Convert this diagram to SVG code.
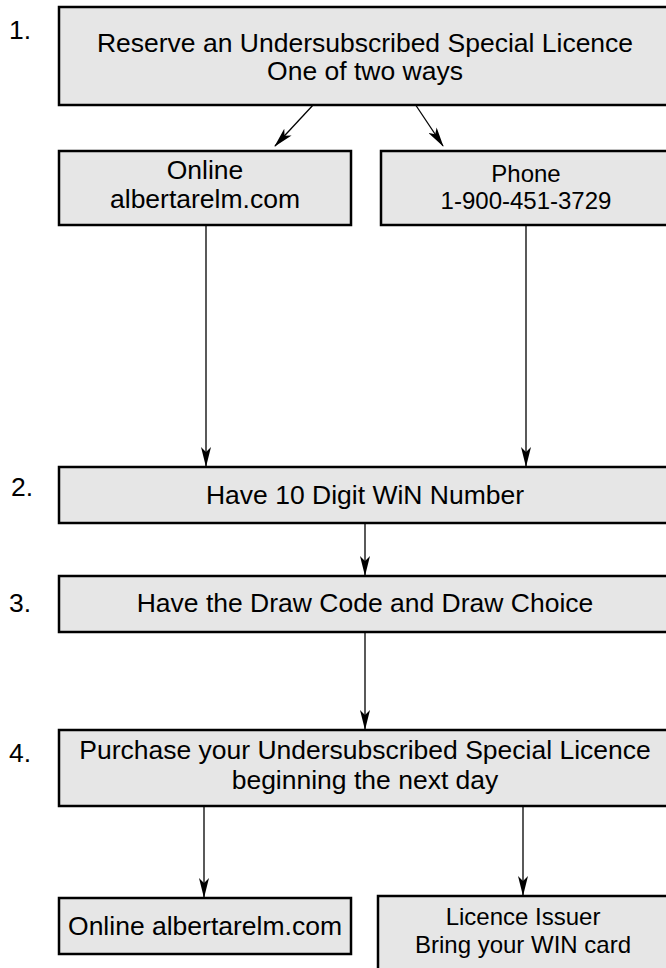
<svg xmlns="http://www.w3.org/2000/svg" width="666" height="968" viewBox="0 0 666 968">
<style>
.box{fill:#e6e6e6;stroke:#000;stroke-width:2.5}
.t{font-family:"Liberation Sans",Arial,sans-serif;font-size:26.5px;fill:#000;text-anchor:middle}
.s{font-size:24px}
.n{font-family:"Liberation Sans",Arial,sans-serif;font-size:26.5px;fill:#000}
.c{stroke:#000;stroke-width:1.3;fill:none;marker-end:url(#ah)}
</style>
<defs>
<marker id="ah" markerUnits="userSpaceOnUse" markerWidth="20" markerHeight="10" viewBox="0 0 20 10" refX="19" refY="5" orient="auto">
<path d="M0,0 L20,5 L0,10 L5,5 z" fill="#000"/>
</marker>
</defs>
<rect width="666" height="968" fill="#fff"/>
<g id="connectors">
<line class="c" x1="314" y1="104" x2="275" y2="146"/>
<line class="c" x1="415" y1="104" x2="443" y2="146"/>
<line class="c" x1="206" y1="225" x2="206" y2="466"/>
<line class="c" x1="526" y1="225" x2="526" y2="466"/>
<line class="c" x1="365" y1="523" x2="365" y2="575"/>
<line class="c" x1="365" y1="632" x2="365" y2="729"/>
<line class="c" x1="204" y1="806" x2="204" y2="897"/>
<line class="c" x1="523" y1="806" x2="523" y2="895"/>
</g>
<g id="n1">
<text class="n" x="9" y="39">1.</text>
<rect class="box" x="59" y="7" width="620" height="98"/>
<text class="t" x="365" y="52">Reserve an Undersubscribed Special Licence</text>
<text class="t" x="365" y="80">One of two ways</text>
</g>
<g id="online1">
<rect class="box" x="59" y="151" width="292" height="74"/>
<text class="t" x="205" y="179">Online</text>
<text class="t" x="205" y="208">albertarelm.com</text>
</g>
<g id="phone">
<rect class="box" x="381" y="151" width="300" height="74"/>
<text class="t s" x="526" y="182">Phone</text>
<text class="t s" x="526" y="209">1-900-451-3729</text>
</g>
<g id="n2">
<text class="n" x="11" y="496">2.</text>
<rect class="box" x="59" y="467" width="620" height="56"/>
<text class="t" x="365" y="504">Have 10 Digit WiN Number</text>
</g>
<g id="n3">
<text class="n" x="9" y="612">3.</text>
<rect class="box" x="59" y="576" width="620" height="56"/>
<text class="t" x="365" y="612">Have the Draw Code and Draw Choice</text>
</g>
<g id="n4">
<text class="n" x="9" y="762">4.</text>
<rect class="box" x="59" y="730" width="620" height="76"/>
<text class="t" x="365" y="759">Purchase your Undersubscribed Special Licence</text>
<text class="t" x="365" y="789">beginning the next day</text>
</g>
<g id="online2">
<rect class="box" x="59" y="898" width="292" height="56"/>
<text class="t" x="205" y="935">Online albertarelm.com</text>
</g>
<g id="issuer">
<rect class="box" x="378" y="896" width="300" height="90"/>
<text class="t s" x="523" y="925">Licence Issuer</text>
<text class="t s" x="523" y="953">Bring your WIN card</text>
</g>
</svg>
